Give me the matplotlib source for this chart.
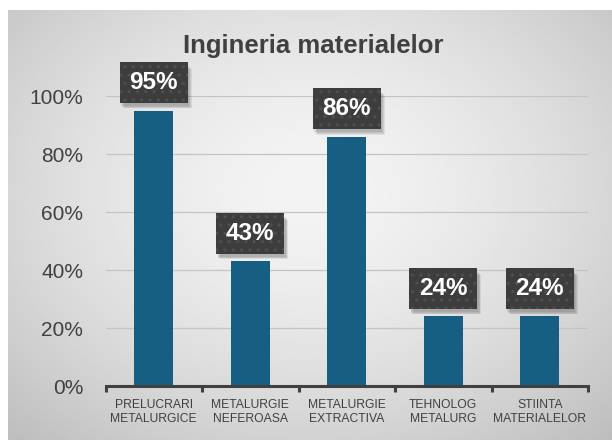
import numpy as np
import matplotlib
matplotlib.use("Agg")
import matplotlib.pyplot as plt
from matplotlib.patches import Rectangle
from matplotlib.offsetbox import AnnotationBbox, DrawingArea
from matplotlib.ticker import FixedLocator, PercentFormatter

plt.rcParams['font.family'] = ['Liberation Sans', 'DejaVu Sans']
plt.rcParams['hatch.linewidth'] = 1.2

# date
categorii = ["PRELUCRARI\nMETALURGICE", "METALURGIE\nNEFEROASA", "METALURGIE\nEXTRACTIVA",
             "TEHNOLOG\nMETALURG", "STIINTA\nMATERIALELOR"]
procente = [95, 43, 86, 24, 24]
titlu = "Ingineria materialelor"

W, H = 612, 440
fig = plt.figure(figsize=(W / 100, H / 100), dpi=100)

# fundal cu gradient radial (zona graficului)
bg = fig.add_axes([8 / W, 0, 1 - 8 / W, 1 - 10 / H], zorder=-1)
yy, xx = np.mgrid[0:1:300j, 0:1:420j]
r = np.sqrt(((xx - 0.5) / 0.75) ** 2 + ((yy - 0.42) / 0.8) ** 2)
val = np.clip(0.955 - 0.22 * r ** 1.6, 0, 1)
bg.imshow(val, cmap='gray', vmin=0, vmax=1, aspect='auto', extent=[0, 1, 0, 1])
bg.axis('off')

ax = fig.add_axes([105.5 / W, 1 - 386 / H, 482.5 / W, 290 / H])
ax.set_facecolor('none')
x = np.arange(len(categorii))
valori = np.array(procente) / 100
ax.bar(x, valori, width=0.4, color='#175F82', zorder=3)

ax.set_xlim(-0.5, len(categorii) - 0.5)
ax.set_ylim(0, 1.0)
ax.yaxis.set_major_locator(FixedLocator([0, 0.2, 0.4, 0.6, 0.8, 1.0]))
ax.yaxis.set_major_formatter(PercentFormatter(1.0, decimals=0))
ax.grid(axis='y', color='#C4C4C4', lw=0.9, zorder=0)
ax.tick_params(axis='y', length=0, pad=16, labelsize=15, labelcolor='#404040')

ax.set_xticks(x)
ax.set_xticklabels(categorii, fontsize=8.7, color='#404040', linespacing=1.3)
ax.set_xticks(np.arange(len(categorii) + 1) - 0.5, minor=True)
ax.tick_params(axis='x', which='major', length=0, pad=9)
ax.tick_params(axis='x', which='minor', length=4, width=2.2, color='#404040', direction='out')

for s in ['top', 'right', 'left']:
    ax.spines[s].set_visible(False)
ax.spines['bottom'].set_color('#404040')
ax.spines['bottom'].set_linewidth(2.2)
ax.spines['bottom'].set_zorder(4)

# etichete: caseta inchisa cu puncte si umbra
bw, bh = 49, 29.5  # puncte
for xi, v, p in zip(x, valori, procente):
    da = DrawingArea(bw + 4, bh + 4, 0, 0)
    for k in range(4):
        da.add_artist(Rectangle((1 + k * 0.6, -k * 0.6 + 2), bw, bh - 1,
                                fc='black', ec='none', alpha=0.07))
    da.add_artist(Rectangle((0, 4), bw, bh, fc='#3D3D3D', ec='#4E4E4E', lw=0, hatch='..'))
    da.add_artist(plt.Text(bw / 2, 4 + bh / 2, f"{p}%", ha='center', va='center',
                           fontsize=17.5, fontweight='bold', color='white'))
    ab = AnnotationBbox(da, (xi, v), xybox=(2, 18), boxcoords='offset points',
                        frameon=False, box_alignment=(0.5, 0.5), pad=0,
                        annotation_clip=False, zorder=5)
    ax.add_artist(ab)

fig.text(313 / W, 1 - 46 / H, titlu, ha='center', va='center', fontsize=18.5,
         fontweight='bold', color='#404040')

fig.savefig("out.png", dpi=100)
